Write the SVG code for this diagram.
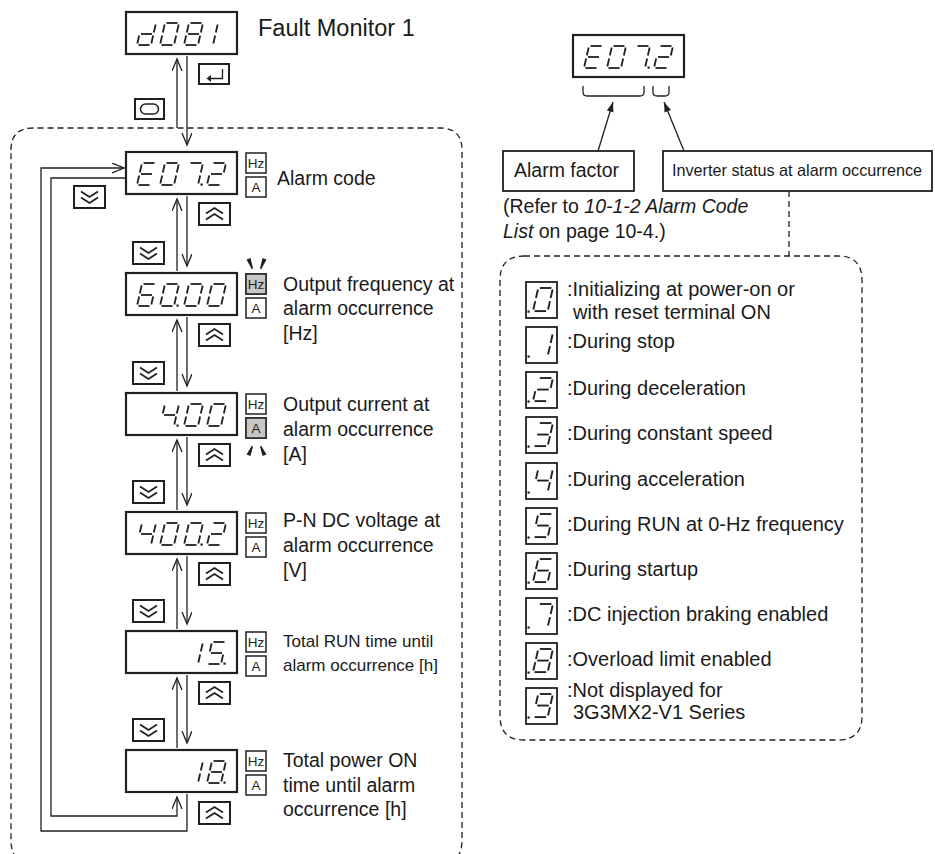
<svg xmlns="http://www.w3.org/2000/svg" xmlns:xlink="http://www.w3.org/1999/xlink" width="935" height="854" viewBox="0 0 935 854">
<style>
.txt{font-family:"Liberation Sans",Arial,sans-serif;fill:#1a1a1a}
.lbl{font-size:19.5px}
.lg{font-size:20px}
.sml{font-size:17px}
.disp{fill:#fff;stroke:#231f20;stroke-width:2.2}
.seg{fill:none;stroke:#231f20;stroke-width:1.8}
.dp{fill:#231f20}
.ico{fill:#fff;stroke:#231f20;stroke-width:1.5}
.ico-on{fill:#c6c6c6;stroke:#231f20;stroke-width:1.5}
.icot{font-family:"Liberation Sans",Arial,sans-serif;font-size:13.5px;fill:#231f20;text-anchor:middle}
.btn{fill:#fff;stroke:#231f20;stroke-width:2}
.chev{fill:none;stroke:#231f20;stroke-width:1.8}
.con{fill:none;stroke:#231f20;stroke-width:1.3}
.dash{fill:none;stroke:#231f20;stroke-width:1.3;stroke-dasharray:6 4}
.lgbox{fill:#fff;stroke:#231f20;stroke-width:1.8}
.box{fill:#fff;stroke:#231f20;stroke-width:1.8}
.mark{fill:#231f20}
</style>
<defs>
<marker id="open" markerUnits="userSpaceOnUse" markerWidth="14" markerHeight="12" refX="12" refY="5" orient="auto">
<path d="M0,0 L12,5 L0,10" fill="none" stroke="#231f20" stroke-width="1.3"/>
</marker>
<marker id="solid" markerUnits="userSpaceOnUse" markerWidth="12" markerHeight="10" refX="10" refY="3.5" orient="auto">
<path d="M0,0 L10,3.5 L0,7 Z" fill="#231f20"/>
</marker>
<path id="sa" class="seg" d="M6.5,0H17.5"/>
<path id="sb" class="seg" d="M18.66,1.5L16.84,9.5"/>
<path id="sc" class="seg" d="M16.16,12.5L14.34,20.5"/>
<path id="sd" class="seg" d="M1.5,22H12.5"/>
<path id="se" class="seg" d="M2.16,12.5L0.34,20.5"/>
<path id="sf" class="seg" d="M4.66,1.5L2.84,9.5"/>
<path id="sg" class="seg" d="M4,11H15"/>
<g id="dg0"><use href="#sa"/><use href="#sb"/><use href="#sc"/><use href="#sd"/><use href="#se"/><use href="#sf"/></g>
<g id="dg1"><use href="#sb"/><use href="#sc"/></g>
<g id="dg2"><use href="#sa"/><use href="#sb"/><use href="#sg"/><use href="#se"/><use href="#sd"/></g>
<g id="dg3"><use href="#sa"/><use href="#sb"/><use href="#sg"/><use href="#sc"/><use href="#sd"/></g>
<g id="dg4"><use href="#sf"/><use href="#sg"/><use href="#sb"/><use href="#sc"/></g>
<g id="dg5"><use href="#sa"/><use href="#sf"/><use href="#sg"/><use href="#sc"/><use href="#sd"/></g>
<g id="dg6"><use href="#sa"/><use href="#sf"/><use href="#sg"/><use href="#se"/><use href="#sc"/><use href="#sd"/></g>
<g id="dg7"><use href="#sa"/><use href="#sb"/><use href="#sc"/></g>
<g id="dg8"><use href="#sa"/><use href="#sb"/><use href="#sc"/><use href="#sd"/><use href="#se"/><use href="#sf"/><use href="#sg"/></g>
<g id="dg9"><use href="#sa"/><use href="#sb"/><use href="#sc"/><use href="#sd"/><use href="#sf"/><use href="#sg"/></g>
<g id="dgd"><use href="#sb"/><use href="#sc"/><use href="#sd"/><use href="#se"/><use href="#sg"/></g>
<g id="dgE"><use href="#sa"/><use href="#sd"/><use href="#se"/><use href="#sf"/><use href="#sg"/></g>
<rect id="dpt" class="dp" x="16.5" y="20.5" width="2.2" height="2.2"/>
<g id="btnUp"><rect class="btn" x="0" y="0" width="31" height="22"/><polyline class="chev" points="7,10.5 15.5,5 24,10.5"/><polyline class="chev" points="7,16.5 15.5,11 24,16.5"/></g>
<g id="btnDn"><rect class="btn" x="0" y="0" width="31" height="22"/><polyline class="chev" points="7,5.5 15.5,11 24,5.5"/><polyline class="chev" points="7,11.5 15.5,17 24,11.5"/></g>
<g id="hzA"><rect class="ico" x="0" y="0" width="20" height="20"/><text class="icot" x="10" y="15">Hz</text><rect class="ico" x="0" y="24" width="20" height="20"/><text class="icot" x="10" y="39">A</text></g>
</defs>

<rect width="935" height="854" fill="#fff"/>

<!-- dashed grouping frames -->
<path class="dash" d="M11,150 Q11,128 33,128 H440 Q462,128 462,150 V840 Q462,864 440,864 H33 Q11,864 11,840 Z"/>
<path class="dash" d="M524,256 H838 Q862,256 862,280 V716 Q862,740 838,740 H524 Q500,740 500,716 V280 Q500,256 524,256 Z"/>

<!-- connectors -->
<g id="connectors">
<line class="con" x1="177" y1="128" x2="177" y2="59" marker-end="url(#open)"/>
<line class="con" x1="187" y1="56" x2="187" y2="145" marker-end="url(#open)"/>
<line class="con" x1="177" y1="271" x2="177" y2="199" marker-end="url(#open)"/>
<line class="con" x1="187" y1="196" x2="187" y2="266" marker-end="url(#open)"/>
<line class="con" x1="177" y1="391" x2="177" y2="320" marker-end="url(#open)"/>
<line class="con" x1="187" y1="317" x2="187" y2="386" marker-end="url(#open)"/>
<line class="con" x1="177" y1="510" x2="177" y2="440" marker-end="url(#open)"/>
<line class="con" x1="187" y1="437" x2="187" y2="505" marker-end="url(#open)"/>
<line class="con" x1="177" y1="629" x2="177" y2="559" marker-end="url(#open)"/>
<line class="con" x1="187" y1="556" x2="187" y2="624" marker-end="url(#open)"/>
<line class="con" x1="177" y1="748" x2="177" y2="678" marker-end="url(#open)"/>
<line class="con" x1="187" y1="675" x2="187" y2="743" marker-end="url(#open)"/>
<path class="con" d="M187,794 V831 H41 V168 H124" marker-end="url(#open)"/>
<path class="con" d="M126,178 H51 V816 H177 V797" marker-end="url(#open)"/>
<line class="con" x1="598" y1="151" x2="613" y2="102" marker-end="url(#solid)"/>
<line class="con" x1="684" y1="151" x2="664" y2="102" marker-end="url(#solid)"/>
<line class="dash" x1="789" y1="191" x2="789" y2="256"/>
</g>

<!-- buttons -->
<g id="btn-enter"><rect class="btn" x="199" y="64" width="30" height="20"/><path class="con" d="M222.5,69 V78.5 H210" stroke-width="1.6"/><path d="M206.5,78.5 L211,75 L211,82 Z" fill="#231f20"/></g>
<g id="btn-esc"><rect class="btn" x="135" y="99" width="29" height="20"/><rect x="140.5" y="104" width="18" height="10" rx="5" fill="none" stroke="#231f20" stroke-width="1.5"/></g>
<use href="#btnDn" x="74" y="186"/>
<use href="#btnUp" x="199" y="203"/><use href="#btnDn" x="133" y="242"/>
<use href="#btnUp" x="199" y="324"/><use href="#btnDn" x="133" y="362"/>
<use href="#btnUp" x="199" y="444"/><use href="#btnDn" x="133" y="481"/>
<use href="#btnUp" x="199" y="563"/><use href="#btnDn" x="133" y="600"/>
<use href="#btnUp" x="199" y="682"/><use href="#btnDn" x="133" y="719"/>
<use href="#btnUp" x="199" y="802"/>

<!-- node: d081 -->
<g id="node-d081">
<rect class="disp" x="126" y="12" width="111" height="42"/>
<use href="#dgd" x="137" y="23"/><use href="#dg0" x="160" y="23"/><use href="#dg8" x="184" y="23"/><use href="#dg1" x="199" y="23"/>
<text class="txt" x="258" y="36" font-size="23.5">Fault Monitor 1</text>
</g>

<!-- node: E07.2 -->
<g id="node-e072">
<rect class="disp" x="126" y="152" width="111" height="42"/>
<use href="#dgE" x="137" y="163"/><use href="#dg0" x="160" y="163"/><use href="#dg7" x="184" y="163"/><use href="#dpt" x="184" y="163"/><use href="#dg2" x="207" y="163"/>
<use href="#hzA" x="246" y="153"/>
<text class="txt lbl" x="277" y="185">Alarm code</text>
</g>

<!-- node: 60.00 -->
<g id="node-6000">
<rect class="disp" x="126" y="273" width="111" height="42"/>
<use href="#dg6" x="137" y="284"/><use href="#dg0" x="160" y="284"/><use href="#dpt" x="160" y="284"/><use href="#dg0" x="184" y="284"/><use href="#dg0" x="207" y="284"/>
<use href="#hzA" x="246" y="274"/>
<rect class="ico-on" x="246" y="274" width="20" height="20"/><text class="icot" x="256" y="289">Hz</text>
<polygon class="mark" points="246.5,259.5 250.5,258 253,268.5 251.8,269.3"/>
<polygon class="mark" points="266.5,259.5 262.5,258 260,268.5 261.2,269.3"/>
<text class="txt lbl" x="283" y="291">Output frequency at</text>
<text class="txt lbl" x="283" y="315">alarm occurrence</text>
<text class="txt lbl" x="283" y="340">[Hz]</text>
</g>

<!-- node: 4.00 -->
<g id="node-400">
<rect class="disp" x="126" y="393" width="111" height="42"/>
<use href="#dg4" x="160" y="404"/><use href="#dpt" x="160" y="404"/><use href="#dg0" x="184" y="404"/><use href="#dg0" x="207" y="404"/>
<use href="#hzA" x="246" y="394"/>
<rect class="ico-on" x="246" y="418" width="20" height="20"/><text class="icot" x="256" y="433">A</text>
<polygon class="mark" points="251.8,445.7 253,446.5 250.5,456 246.5,454.5"/>
<polygon class="mark" points="261.2,445.7 260,446.5 262.5,456 266.5,454.5"/>
<text class="txt lbl" x="283" y="411">Output current at</text>
<text class="txt lbl" x="283" y="436">alarm occurrence</text>
<text class="txt lbl" x="283" y="461">[A]</text>
</g>

<!-- node: 400.2 -->
<g id="node-4002">
<rect class="disp" x="126" y="512" width="111" height="42"/>
<use href="#dg4" x="137" y="523"/><use href="#dg0" x="160" y="523"/><use href="#dg0" x="184" y="523"/><use href="#dpt" x="184" y="523"/><use href="#dg2" x="207" y="523"/>
<use href="#hzA" x="246" y="513"/>
<text class="txt lbl" x="283" y="527">P-N DC voltage at</text>
<text class="txt lbl" x="283" y="552">alarm occurrence</text>
<text class="txt lbl" x="283" y="577">[V]</text>
</g>

<!-- node: 15. -->
<g id="node-15">
<rect class="disp" x="126" y="631" width="111" height="42"/>
<use href="#dg1" x="184" y="642"/><use href="#dg5" x="207" y="642"/><use href="#dpt" x="207" y="642"/>
<use href="#hzA" x="246" y="632"/>
<text class="txt sml" x="283" y="647">Total RUN time until</text>
<text class="txt sml" x="283" y="671">alarm occurrence [h]</text>
</g>

<!-- node: 18. -->
<g id="node-18">
<rect class="disp" x="126" y="750" width="111" height="42"/>
<use href="#dg1" x="184" y="761"/><use href="#dg8" x="207" y="761"/><use href="#dpt" x="207" y="761"/>
<use href="#hzA" x="246" y="751"/>
<text class="txt lbl" x="283" y="767">Total power ON</text>
<text class="txt lbl" x="283" y="792">time until alarm</text>
<text class="txt lbl" x="283" y="816">occurrence [h]</text>
</g>

<!-- node: E07.2 explanation -->
<g id="node-e072-detail">
<rect class="disp" x="573" y="35" width="111" height="42"/>
<use href="#dgE" x="584" y="46"/><use href="#dg0" x="607" y="46"/><use href="#dg7" x="631" y="46"/><use href="#dpt" x="631" y="46"/><use href="#dg2" x="654" y="46"/>
<path class="con" d="M583,86 V92 Q583,96 587,96 H640 Q644,96 644,92 V86"/>
<path class="con" d="M653,86 V92 Q653,96 657,96 H665 Q669,96 669,92 V86"/>
</g>

<g id="node-alarm-factor">
<rect class="box" x="503" y="151" width="131" height="40"/>
<text class="txt lbl" x="514" y="177">Alarm factor</text>
</g>

<g id="node-inverter-status">
<rect class="box" x="663" y="151" width="269" height="40"/>
<text class="txt" x="672" y="176" font-size="16.2">Inverter status at alarm occurrence</text>
</g>

<g id="note-refer">
<text class="txt lbl" x="503" y="213">(Refer to <tspan font-style="italic">10-1-2 Alarm Code</tspan></text>
<text class="txt lbl" x="503" y="238"><tspan font-style="italic">List</tspan> on page 10-4.)</text>
</g>

<!-- legend -->
<g id="legend-0"><rect class="lgbox" x="526" y="282" width="31" height="36"/><use href="#dg0" transform="translate(533,288) scale(1.05)"/><rect class="dp" x="527.5" y="310.5" width="2.2" height="2.2"/>
<text class="txt lg" x="567" y="296">:Initializing at power-on or</text><text class="txt lg" x="573" y="319">with reset terminal ON</text></g>
<g id="legend-1"><rect class="lgbox" x="526" y="327" width="31" height="36"/><use href="#dg1" transform="translate(533,333) scale(1.05)"/><rect class="dp" x="527.5" y="355.5" width="2.2" height="2.2"/>
<text class="txt lg" x="567" y="348">:During stop</text></g>
<g id="legend-2"><rect class="lgbox" x="526" y="372" width="31" height="36"/><use href="#dg2" transform="translate(533,378) scale(1.05)"/><rect class="dp" x="527.5" y="400.5" width="2.2" height="2.2"/>
<text class="txt lg" x="567" y="395">:During deceleration</text></g>
<g id="legend-3"><rect class="lgbox" x="526" y="417" width="31" height="36"/><use href="#dg3" transform="translate(533,423) scale(1.05)"/><rect class="dp" x="527.5" y="445.5" width="2.2" height="2.2"/>
<text class="txt lg" x="567" y="440">:During constant speed</text></g>
<g id="legend-4"><rect class="lgbox" x="526" y="463" width="31" height="36"/><use href="#dg4" transform="translate(533,469) scale(1.05)"/><rect class="dp" x="527.5" y="491.5" width="2.2" height="2.2"/>
<text class="txt lg" x="567" y="486">:During acceleration</text></g>
<g id="legend-5"><rect class="lgbox" x="526" y="508" width="31" height="36"/><use href="#dg5" transform="translate(533,514) scale(1.05)"/><rect class="dp" x="527.5" y="536.5" width="2.2" height="2.2"/>
<text class="txt lg" x="567" y="531">:During RUN at 0-Hz frequency</text></g>
<g id="legend-6"><rect class="lgbox" x="526" y="553" width="31" height="36"/><use href="#dg6" transform="translate(533,559) scale(1.05)"/><rect class="dp" x="527.5" y="581.5" width="2.2" height="2.2"/>
<text class="txt lg" x="567" y="576">:During startup</text></g>
<g id="legend-7"><rect class="lgbox" x="526" y="598" width="31" height="36"/><use href="#dg7" transform="translate(533,604) scale(1.05)"/><rect class="dp" x="527.5" y="626.5" width="2.2" height="2.2"/>
<text class="txt lg" x="567" y="621">:DC injection braking enabled</text></g>
<g id="legend-8"><rect class="lgbox" x="526" y="643" width="31" height="36"/><use href="#dg8" transform="translate(533,649) scale(1.05)"/><rect class="dp" x="527.5" y="671.5" width="2.2" height="2.2"/>
<text class="txt lg" x="567" y="666">:Overload limit enabled</text></g>
<g id="legend-9"><rect class="lgbox" x="526" y="688" width="31" height="36"/><use href="#dg9" transform="translate(533,694) scale(1.05)"/><rect class="dp" x="527.5" y="716.5" width="2.2" height="2.2"/>
<text class="txt lg" x="567" y="697">:Not displayed for</text><text class="txt lg" x="573" y="719">3G3MX2-V1 Series</text></g>
</svg>
